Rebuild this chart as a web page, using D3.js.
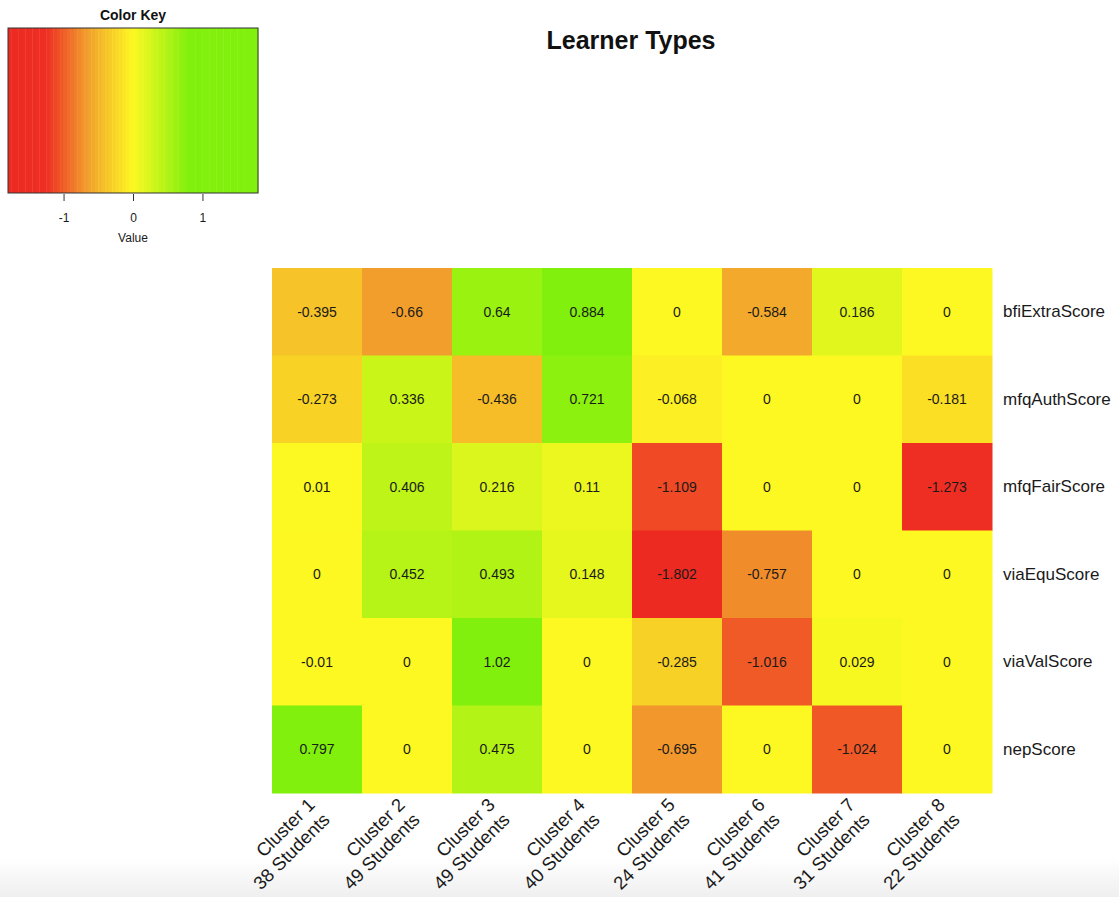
<!DOCTYPE html>
<html>
<head>
<meta charset="utf-8">
<script src="https://cdn.jsdelivr.net/npm/d3@7"></script>
<style>
  html, body { margin: 0; padding: 0; background: #fff; }
  svg { display: block; font-family: "Liberation Sans", Arial, Helvetica, sans-serif; }
</style>
</head>
<body>
<svg id="chart" width="1119" height="897"></svg>
<script>
// Cluster columns and their sizes
const clusters = ["Cluster 1", "Cluster 2", "Cluster 3", "Cluster 4", "Cluster 5", "Cluster 6", "Cluster 7", "Cluster 8"];
const students = [38, 49, 49, 40, 24, 41, 31, 22];

// Score rows (top to bottom)
const scores = ["bfiExtraScore", "mfqAuthScore", "mfqFairScore", "viaEquScore", "viaValScore", "nepScore"];

// Cluster means, one array per score row
const bfiExtraScore = [-0.395, -0.66, 0.64, 0.884, 0, -0.584, 0.186, 0];
const mfqAuthScore  = [-0.273, 0.336, -0.436, 0.721, -0.068, 0, 0, -0.181];
const mfqFairScore  = [0.01, 0.406, 0.216, 0.11, -1.109, 0, 0, -1.273];
const viaEquScore   = [0, 0.452, 0.493, 0.148, -1.802, -0.757, 0, 0];
const viaValScore   = [-0.01, 0, 1.02, 0, -0.285, -1.016, 0.029, 0];
const nepScore      = [0.797, 0, 0.475, 0, -0.695, 0, -1.024, 0];
const rowValues = [bfiExtraScore, mfqAuthScore, mfqFairScore, viaEquScore, viaValScore, nepScore];

// Colour key
const keyDomain = [-1.8, 1.8];
const keyTicks = [-1, 0, 1];

const svg = d3.select("#chart");

// faint grey fade along the bottom edge
const defs = svg.append("defs");
const fade = defs.append("linearGradient").attr("id", "fade").attr("x1", 0).attr("y1", 0).attr("x2", 0).attr("y2", 1);
fade.append("stop").attr("offset", 0).attr("stop-color", "#ffffff");
fade.append("stop").attr("offset", 1).attr("stop-color", "#efefef");
svg.append("rect").attr("x", 0).attr("y", 858).attr("width", 1119).attr("height", 39).attr("fill", "url(#fade)");

// red -> orange -> yellow -> green colour ramp
const color = d3.scaleLinear()
  .domain([-1.8, -1.25, -0.65, 0, 0.8, 1.8])
  .range(["#ec2a22", "#ee2e23", "#f2a02c", "#fdf822", "#80f00c", "#80f00c"])
  .interpolate(d3.interpolateRgb)
  .clamp(true);

// ---- heatmap ----
const x = d3.scaleBand().domain(d3.range(clusters.length)).range([272, 992]);
const y = d3.scaleBand().domain(scores).range([268, 793]);

const cells = [];
scores.forEach((s, r) => rowValues[r].forEach((v, c) => cells.push({ s, c, v })));

svg.append("g").selectAll("rect").data(cells).join("rect")
  .attr("x", d => x(d.c))
  .attr("y", d => y(d.s))
  .attr("width", x.bandwidth() + 0.5)
  .attr("height", y.bandwidth() + 0.5)
  .attr("fill", d => color(d.v));

svg.append("g").selectAll("text").data(cells).join("text")
  .attr("x", d => x(d.c) + x.bandwidth() / 2)
  .attr("y", d => y(d.s) + y.bandwidth() / 2)
  .attr("dy", "0.36em")
  .attr("text-anchor", "middle")
  .attr("font-size", 14)
  .attr("fill", "#1a1a1a")
  .text(d => d.v === 0 ? "0" : String(d.v));

// row labels on the right
const yAxis = d3.axisRight(y).tickSize(0).tickPadding(11);
const gy = svg.append("g").attr("transform", "translate(992,0)").call(yAxis);
gy.select(".domain").remove();
gy.selectAll("text").attr("font-size", 17).attr("fill", "#1a1a1a")
  .attr("font-family", "'Liberation Sans', Arial, sans-serif");

// rotated two-line column labels
const colLab = svg.append("g").selectAll("text").data(clusters).join("text")
  .attr("transform", (d, i) => `translate(${x(i) + x.bandwidth() / 2 - 1},${806}) rotate(-45)`)
  .attr("text-anchor", "end")
  .attr("font-size", 18.5)
  .attr("fill", "#1a1a1a");
colLab.append("tspan").attr("x", 0).attr("y", 0).text(d => d);
colLab.append("tspan").attr("x", 0).attr("y", 21).text((d, i) => `${students[i]} Students`);

// title
svg.append("text")
  .attr("x", 631).attr("y", 49)
  .attr("text-anchor", "middle")
  .attr("font-size", 25).attr("font-weight", "bold")
  .attr("fill", "#111")
  .text("Learner Types");

// ---- colour key ----
const kx = d3.scaleLinear().domain(keyDomain).range([8, 258]);
const keyTop = 28, keyBottom = 193;
const steps = d3.range(keyDomain[0], keyDomain[1], 0.05);
svg.append("g").selectAll("rect").data(steps).join("rect")
  .attr("x", d => kx(d))
  .attr("y", keyTop)
  .attr("width", d => kx(Math.min(d + 0.05, keyDomain[1])) - kx(d) + 0.4)
  .attr("height", keyBottom - keyTop)
  .attr("fill", d => color(d + 0.025));
svg.append("rect")
  .attr("x", kx(keyDomain[0])).attr("y", keyTop)
  .attr("width", kx(keyDomain[1]) - kx(keyDomain[0]))
  .attr("height", keyBottom - keyTop)
  .attr("fill", "none").attr("stroke", "#333").attr("stroke-width", 1);

const keyAxis = d3.axisBottom(kx).tickValues(keyTicks).tickSize(7).tickPadding(12).tickFormat(d3.format("d"));
const gk = svg.append("g").attr("transform", `translate(0,${keyBottom + 1})`).call(keyAxis);
gk.select(".domain").remove();
gk.selectAll("line").attr("stroke", "#333");
gk.selectAll("text").attr("font-size", 12).attr("fill", "#1a1a1a")
  .attr("font-family", "'Liberation Sans', Arial, sans-serif")
  .text(d => d < 0 ? "-" + Math.abs(d) : d);

svg.append("text").attr("x", kx(0)).attr("y", 242).attr("text-anchor", "middle")
  .attr("font-size", 12).attr("fill", "#1a1a1a").text("Value");
svg.append("text").attr("x", 133).attr("y", 20).attr("text-anchor", "middle")
  .attr("font-size", 14).attr("font-weight", "bold").attr("fill", "#111").text("Color Key");
</script>
</body>
</html>
